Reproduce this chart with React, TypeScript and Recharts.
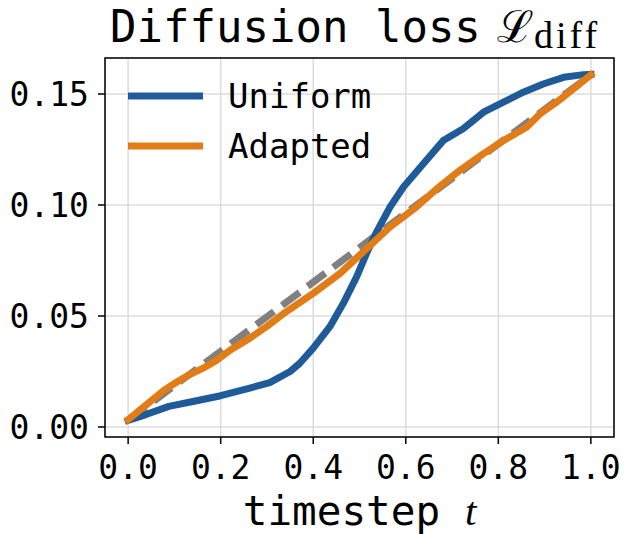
import { LineChart, Line, XAxis, YAxis, CartesianGrid, Legend, ReferenceArea } from 'recharts'

const MONO = '"DejaVu Sans Mono", monospace'
const SERIF = '"Liberation Serif", "DejaVu Serif", serif'

const BLUE = '#1f5b98'
const ORANGE = '#e17c17'
const GRAY = '#808080'

// uniform schedule
const uniformT = [0, 0.037, 0.088, 0.14, 0.2, 0.263, 0.306, 0.35, 0.371, 0.4, 0.436, 0.465, 0.494, 0.515, 0.537, 0.566, 0.595, 0.638, 0.681, 0.724, 0.768, 0.811, 0.854, 0.897, 0.941, 0.984, 1.0]
const uniformLoss = [0.003, 0.0055, 0.0093, 0.0115, 0.0141, 0.0175, 0.02, 0.025, 0.0287, 0.0355, 0.0452, 0.0557, 0.0677, 0.0781, 0.0879, 0.0991, 0.1081, 0.1186, 0.129, 0.1343, 0.1418, 0.1463, 0.1508, 0.1545, 0.1575, 0.1587, 0.1588]

// adapted schedule
const adaptedT = [0, 0.044, 0.077, 0.107, 0.132, 0.162, 0.191, 0.221, 0.263, 0.299, 0.342, 0.4, 0.458, 0.508, 0.566, 0.623, 0.667, 0.717, 0.768, 0.811, 0.861, 0.89, 0.926, 0.962, 1.0]
const adaptedLoss = [0.0033, 0.0108, 0.0165, 0.0205, 0.0235, 0.0265, 0.03, 0.0347, 0.04, 0.0452, 0.052, 0.0602, 0.0692, 0.0789, 0.0901, 0.0991, 0.1073, 0.1156, 0.1231, 0.129, 0.135, 0.141, 0.1463, 0.1522, 0.1586]

// diagonal reference
const refT = [0, 1]
const refLoss = [0.003, 0.1586]

const legendOrder = ['Uniform', 'Adapted']

const xTicks = [0, 0.2, 0.4, 0.6, 0.8, 1.0]
const yTicks = [0, 0.05, 0.1, 0.15]

const X_DOMAIN: [number, number] = [-0.05, 1.05]
const Y_DOMAIN: [number, number] = [-0.0045, 0.1662]

const toRows = (ts: number[], vs: number[]) => ts.map((t, i) => ({ t, v: vs[i] }))

const uniformData = toRows(uniformT, uniformLoss)
const adaptedData = toRows(adaptedT, adaptedLoss)
const refData = toRows(refT, refLoss)

// eslint-disable-next-line @typescript-eslint/no-explicit-any
const renderLegend = (props: any) => {
  const items = (props.payload || [])
    .filter((p: any) => legendOrder.includes(p.value))
    .sort((a: any, b: any) => legendOrder.indexOf(a.value) - legendOrder.indexOf(b.value))
  return (
    <svg width={320} height={120} style={{ display: 'block', overflow: 'visible' }}>
      {items.map((item: any, i: number) => (
        <g key={item.value}>
          <line x1={0} x2={75} y1={16 + i * 50} y2={16 + i * 50} stroke={item.color} strokeWidth={7} />
          <text x={100} y={16 + i * 50} dy="0.36em" fontFamily={MONO} fontSize={34} fill="#000">
            {item.value}
          </text>
        </g>
      ))}
    </svg>
  )
}

// eslint-disable-next-line @typescript-eslint/no-explicit-any
const XLabel = (props: any) => {
  const vb = props.viewBox || {}
  const cx = vb.width ? vb.x + vb.width / 2 : 359.5
  return (
    <text x={cx} y={525} textAnchor="middle" fontSize={41} fill="#000">
      <tspan fontFamily={MONO}>timestep </tspan>
      <tspan fontFamily={SERIF} fontStyle="italic">t</tspan>
    </text>
  )
}

const tickStyle = { fontFamily: MONO, fontSize: 33, fill: '#000' }

export default function App() {
  return (
    <div style={{ position: 'absolute', left: 0, top: 0, width: 624, height: 534, background: '#fff' }}>
      <LineChart width={624} height={534} margin={{ top: 58, right: 10, bottom: 0, left: 0 }}>
        <CartesianGrid stroke="#dcdcdc" strokeWidth={1.5} />
        <XAxis
          type="number"
          dataKey="t"
          domain={X_DOMAIN}
          allowDataOverflow
          ticks={xTicks}
          tickFormatter={(v: number) => v.toFixed(1)}
          height={97}
          tickSize={7}
          tickMargin={12}
          axisLine={false}
          tickLine={{ stroke: '#000', strokeWidth: 1.5 }}
          tick={tickStyle}
          interval={0}
          label={{ content: <XLabel /> }}
        />
        <YAxis
          type="number"
          dataKey="v"
          domain={Y_DOMAIN}
          allowDataOverflow
          ticks={yTicks}
          tickFormatter={(v: number) => v.toFixed(2)}
          width={105}
          tickSize={7}
          tickMargin={9}
          axisLine={false}
          tickLine={{ stroke: '#000', strokeWidth: 1.5 }}
          tick={tickStyle}
          interval={0}
        />
        <Line
          data={refData}
          dataKey="v"
          name="reference"
          type="linear"
          stroke={GRAY}
          strokeWidth={7}
          strokeDasharray="22 10"
          dot={false}
          legendType="none"
          isAnimationActive={false}
        />
        <Line
          data={uniformData}
          dataKey="v"
          name="Uniform"
          type="linear"
          stroke={BLUE}
          strokeWidth={7}
          strokeLinejoin="round"
          strokeLinecap="square"
          dot={false}
          isAnimationActive={false}
        />
        <Line
          data={adaptedData}
          dataKey="v"
          name="Adapted"
          type="linear"
          stroke={ORANGE}
          strokeWidth={7}
          strokeLinejoin="round"
          strokeLinecap="square"
          dot={false}
          isAnimationActive={false}
        />
        <ReferenceArea
          x1={X_DOMAIN[0]}
          x2={X_DOMAIN[1]}
          y1={Y_DOMAIN[0]}
          y2={Y_DOMAIN[1]}
          fill="none"
          stroke="#000"
          strokeWidth={1.5}
          ifOverflow="visible"
        />
        <Legend
          layout="vertical"
          align="center"
          verticalAlign="middle"
          content={renderLegend}
          wrapperStyle={{ position: 'absolute', top: 80, left: 128, width: 320, height: 120 }}
        />
      </LineChart>
      <svg width={624} height={60} style={{ position: 'absolute', left: 0, top: 0, pointerEvents: 'none' }}>
        <text x={110} y={42} fontSize={44} fill="#000">
          <tspan fontFamily={MONO}>Diffusion loss</tspan>
          <tspan x={497} fontFamily={'"DejaVu Serif", serif'}>ℒ</tspan>
          <tspan dy={6} fontFamily={SERIF} fontSize={38} letterSpacing={3}>diff</tspan>
        </text>
      </svg>
    </div>
  )
}
